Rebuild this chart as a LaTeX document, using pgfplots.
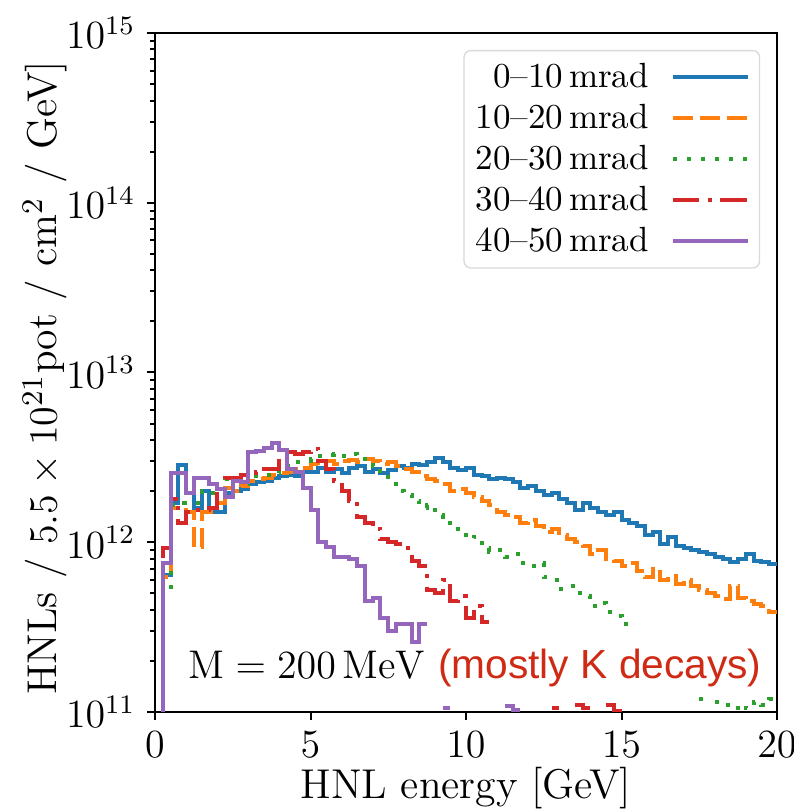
\documentclass[border=0pt]{standalone}
\usepackage{pgfplots}
\pgfplotsset{compat=1.18}
\usepackage{fontspec}
\newfontfamily\helv{Liberation Sans}
\definecolor{c0}{HTML}{1F77B4}
\definecolor{c1}{HTML}{FF7F0E}
\definecolor{c2}{HTML}{2CA02C}
\definecolor{c3}{HTML}{D62728}
\definecolor{c4}{HTML}{9467BD}
\definecolor{kred}{RGB}{206,42,20}
\begin{document}
\begin{tikzpicture}
\begin{axis}[
  scale only axis,
  width=186.6pt, height=203.7pt,
  ymode=log,
  xmin=0, xmax=20, ymin=1e11, ymax=1e15,
  xtick={0,5,10,15,20},
  ytick={1e11,1e12,1e13,1e14,1e15},
  tick align=outside,
  xtick pos=bottom, ytick pos=left,
  major tick length=2.4pt, minor tick length=1.4pt,
  every tick/.style={black, line width=0.6pt},
  axis line style={line width=0.75pt},
  ticklabel style={font=\fontsize{11.5}{13}\selectfont},
  xlabel={HNL energy [GeV]},
  ylabel={HNLs / $5.5\times10^{21}$pot / cm$^2$ / GeV]},
  label style={font=\fontsize{12.5}{15}\selectfont},
  xlabel style={at={(axis description cs:0.5,-0.128)}, anchor=base},
  ylabel style={at={(axis description cs:-0.177,0.492)}, anchor=center},
  unbounded coords=jump,
  every axis plot/.append style={const plot, line width=1.2pt, mark=none},
  legend cell align=right,
  legend plot pos=right,
  legend image code/.code={\draw[#1] (0pt,0pt) -- (22.5pt,0pt);},
  legend style={at={(0.973,0.975)}, anchor=north east, draw=black!15, rounded corners=2pt,
    fill=white, font=\fontsize{10.5}{12}\selectfont, column sep=6pt, row sep=2.3pt,
    inner xsep=3pt, inner ysep=3pt,
    nodes={inner sep=0.5pt, text height=7.5pt, text depth=1.5pt}},
]
\coordinate (SW) at (rel axis cs:0,0);
\coordinate (NE) at (rel axis cs:1,1);
% 0-10 mrad
\addplot[c0] coordinates {
(0,1e10) (0.25,6.4e11) (0.5,1.7e12) (0.75,2.85e12) (1,1.95e12) (1.25,1.6e12) (1.5,2.0e12) (1.75,1.5e12) (2,1.5e12) (2.25,1.95e12) (2.5,2.0e12) (2.75,2.05e12) (3,2.2e12) (3.25,2.25e12) (3.5,2.3e12) (3.75,2.4e12) (4,2.45e12) (4.25,2.5e12) (4.5,2.45e12) (4.75,2.6e12) (5,2.6e12) (5.25,2.75e12) (5.5,2.6e12) (5.75,2.7e12) (6,2.55e12) (6.25,2.75e12) (6.5,2.8e12) (6.75,2.6e12) (7,2.7e12) (7.25,2.55e12) (7.5,2.65e12) (7.75,2.8e12) (8,2.75e12) (8.25,2.9e12) (8.5,2.85e12) (8.75,2.95e12) (9,3.15e12) (9.25,2.95e12) (9.5,2.75e12) (9.75,2.65e12) (10,2.75e12) (10.25,2.5e12) (10.5,2.45e12) (10.75,2.35e12) (11,2.4e12) (11.25,2.35e12) (11.5,2.25e12) (11.75,2.1e12) (12,2.15e12) (12.25,2.0e12) (12.5,1.9e12) (12.75,1.95e12) (13,1.8e12) (13.25,1.7e12) (13.5,1.55e12) (13.75,1.7e12) (14,1.6e12) (14.25,1.5e12) (14.5,1.45e12) (14.75,1.5e12) (15,1.35e12) (15.25,1.3e12) (15.5,1.25e12) (15.75,1.1e12) (16,1.15e12) (16.25,0.98e12) (16.5,1.08e12) (16.75,0.95e12) (17,0.93e12) (17.25,0.9e12) (17.5,0.88e12) (17.75,0.85e12) (18,0.82e12) (18.25,0.8e12) (18.5,0.76e12) (18.75,0.8e12) (19,0.85e12) (19.25,0.78e12) (19.5,0.76e12) (19.75,0.74e12) (20,0.74e12)
};
\addlegendentry{0--10\,mrad}
% 10-20 mrad
\addplot[c1, dash pattern=on 6pt off 2.1pt] coordinates {
(0,1e10) (0.25,6.2e11) (0.5,1.6e12) (0.75,1.55e12) (1,1.5e12) (1.25,9.4e11) (1.5,1.5e12) (1.75,1.5e12) (2,1.7e12) (2.25,2.1e12) (2.5,2.0e12) (2.75,2.15e12) (3,2.3e12) (3.25,2.35e12) (3.5,2.4e12) (3.75,2.5e12) (4,2.55e12) (4.25,2.6e12) (4.5,2.7e12) (4.75,2.75e12) (5,2.9e12) (5.25,2.85e12) (5.5,3.0e12) (5.75,2.9e12) (6,3.0e12) (6.25,3.05e12) (6.5,2.95e12) (6.75,3.1e12) (7,3.0e12) (7.25,2.9e12) (7.5,2.95e12) (7.75,2.8e12) (8,2.7e12) (8.25,2.6e12) (8.5,2.45e12) (8.75,2.35e12) (9,2.3e12) (9.25,2.2e12) (9.5,2.0e12) (9.75,2.05e12) (10,1.95e12) (10.25,1.85e12) (10.5,1.75e12) (10.75,1.65e12) (11,1.5e12) (11.25,1.45e12) (11.5,1.4e12) (11.75,1.3e12) (12,1.35e12) (12.25,1.25e12) (12.5,1.15e12) (12.75,1.2e12) (13,1.1e12) (13.25,1.05e12) (13.5,1.0e12) (13.75,0.95e12) (14,0.85e12) (14.25,0.9e12) (14.5,0.8e12) (14.75,0.78e12) (15,0.72e12) (15.25,0.75e12) (15.5,0.68e12) (15.75,0.62e12) (16,0.7e12) (16.25,0.6e12) (16.5,0.63e12) (16.75,0.57e12) (17,0.6e12) (17.25,0.55e12) (17.5,0.52e12) (17.75,0.5e12) (18,0.48e12) (18.25,0.46e12) (18.5,0.55e12) (18.75,0.47e12) (19,0.45e12) (19.25,0.43e12) (19.5,0.42e12) (19.75,0.39e12) (20,0.39e12)
};
\addlegendentry{10--20\,mrad}
% 20-30 mrad
\addplot[c2, dash pattern=on 1.2pt off 3pt] coordinates {
(0,1e10) (0.25,5e11) (0.5,1.65e12) (0.75,1.7e12) (1,1.7e12) (1.25,1.7e12) (1.5,2.0e12) (1.75,1.95e12) (2,1.95e12) (2.25,2.35e12) (2.5,2.35e12) (2.75,2.2e12) (3,2.3e12) (3.25,2.45e12) (3.5,2.5e12) (3.75,2.55e12) (4,2.7e12) (4.25,2.8e12) (4.5,2.95e12) (4.75,3.0e12) (5,3.1e12) (5.25,3.2e12) (5.5,3.25e12) (5.75,3.3e12) (6,3.2e12) (6.25,3.3e12) (6.5,3.2e12) (6.75,3.1e12) (7,2.8e12) (7.25,2.5e12) (7.5,2.2e12) (7.75,2.0e12) (8,1.9e12) (8.25,1.75e12) (8.5,1.6e12) (8.75,1.65e12) (9,1.45e12) (9.25,1.3e12) (9.5,1.2e12) (9.75,1.15e12) (10,1.05e12) (10.25,1.08e12) (10.5,0.92e12) (10.75,0.88e12) (11,0.9e12) (11.25,0.82e12) (11.5,0.85e12) (11.75,0.75e12) (12,0.72e12) (12.25,0.75e12) (12.5,0.62e12) (12.75,0.6e12) (13,0.53e12) (13.25,0.55e12) (13.5,0.5e12) (13.75,0.48e12) (14,0.42e12) (14.25,0.44e12) (14.5,0.39e12) (14.75,0.37e12) (15,0.33e12) (15.25,0.33e12) (15.3,nan)
(17.5,1.2e11) (17.75,1.2e11) (17.8,nan)
(18,1.15e11) (18.25,1.1e11) (18.5,1.05e11) (18.75,1.1e11) (19,1.05e11) (19.25,1.15e11) (19.5,1.1e11) (19.75,1.2e11) (20,1.2e11)
};
\addlegendentry{20--30\,mrad}
% 30-40 mrad
\addplot[c3, dash pattern=on 8pt off 2.5pt on 1.2pt off 2.5pt] coordinates {
(0,1e10) (0.25,9.2e11) (0.5,1.8e12) (0.75,1.3e12) (1,1.5e12) (1.25,1.55e12) (1.5,1.55e12) (1.75,1.6e12) (2,2.0e12) (2.25,2.4e12) (2.5,2.4e12) (2.75,2.5e12) (3,2.55e12) (3.25,2.6e12) (3.5,2.7e12) (3.75,2.7e12) (4,3.5e12) (4.25,3.4e12) (4.5,3.3e12) (4.75,3.4e12) (5,3.55e12) (5.25,3.0e12) (5.5,2.7e12) (5.75,2.3e12) (6,2.0e12) (6.25,1.75e12) (6.5,1.4e12) (6.75,1.3e12) (7,1.2e12) (7.25,1.05e12) (7.5,1.0e12) (7.75,0.98e12) (8,0.93e12) (8.25,0.78e12) (8.5,0.72e12) (8.75,0.52e12) (9,0.5e12) (9.25,0.6e12) (9.5,0.45e12) (9.75,0.48e12) (10,0.36e12) (10.25,0.42e12) (10.5,0.34e12) (10.75,0.34e12) (10.8,nan)
(12.75,1.05e11) (13,1.05e11) (13.05,nan)
(13.5,1.1e11) (13.75,1.05e11) (14,1.05e11) (14.05,nan)
(14.5,1.1e11) (14.75,1.02e11) (15,1.02e11)
};
\addlegendentry{30--40\,mrad}
% 40-50 mrad
\addplot[c4] coordinates {
(0,1e10) (0.25,7.5e11) (0.5,2.55e12) (0.75,2.55e12) (1,1.95e12) (1.25,2.4e12) (1.5,2.4e12) (1.75,2.2e12) (2,2.05e12) (2.25,1.85e12) (2.5,2.3e12) (2.75,2.25e12) (3,3.4e12) (3.25,3.45e12) (3.5,3.6e12) (3.75,3.85e12) (4,3.5e12) (4.25,2.7e12) (4.5,2.6e12) (4.75,2.1e12) (5,1.55e12) (5.25,1.0e12) (5.5,0.94e12) (5.75,0.82e12) (6,0.82e12) (6.25,0.8e12) (6.5,0.72e12) (6.75,0.45e12) (7,0.47e12) (7.25,0.36e12) (7.5,0.3e12) (7.75,0.33e12) (8,0.33e12) (8.25,0.26e12) (8.5,0.33e12) (8.75,0.33e12) (8.8,nan)
(9.25,1.05e11) (9.5,1.05e11) (9.55,nan)
(11.25,1.08e11) (11.5,1.03e11) (11.75,1.03e11)
};
\addlegendentry{40--50\,mrad}
\node[anchor=base west, inner sep=0pt, font=\fontsize{12}{14}\selectfont] at (axis cs:1.06,1.58e11)
  {$\mathrm{M} = 200\,\mathrm{MeV}$ {\color{kred}\helv\fontsize{12.2}{14}\selectfont(mostly K decays)}};
\end{axis}
\pgfresetboundingbox
\path[use as bounding box] ([xshift=-46.5pt,yshift=-30pt]SW) rectangle ([xshift=5.1pt,yshift=9.9pt]NE);
\end{tikzpicture}
\end{document}
